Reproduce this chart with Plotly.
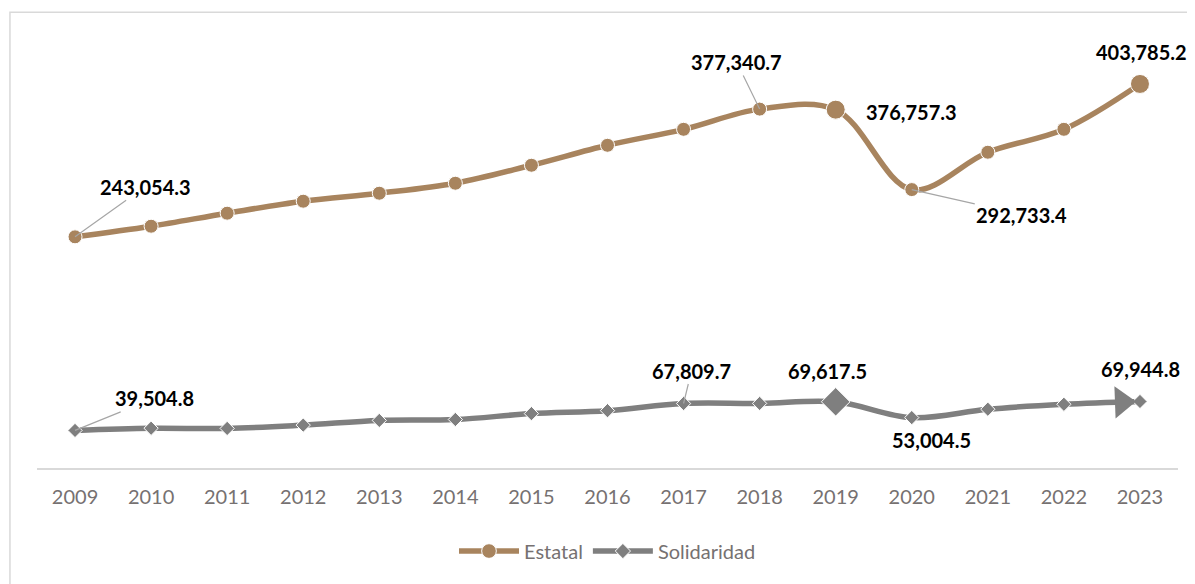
import plotly.graph_objects as go

years = list(range(2009, 2024))

estatal = [243054.3, 254200.0, 267900.0, 280500.0, 288900.0, 299400.0, 318300.0,
           339300.0, 356100.0, 377340.7, 376757.3, 292733.4, 332000.0, 356100.0, 403785.2]

solidaridad = [39504.8, 41800.0, 41600.0, 45100.0, 50000.0, 51000.0, 57200.0,
               60300.0, 67809.7, 67900.0, 69617.5, 53004.5, 61800.0, 67000.0, 69944.8]

COLOURS = {"estatal": "#A8845E", "solidaridad": "#7F7F7F", "tick": "#767171",
           "leader": "#A6A6A6", "axis": "#D9D9D9"}
FONT = "Lato"

fig = go.Figure()

# bigger markers on 2019 and 2023 (as in the source chart)
est_sizes = [19 if y in (2019, 2023) else 14 for y in years]
sol_sizes = [22 if y == 2019 else 11 for y in years]

fig.add_trace(go.Scatter(
    x=years, y=estatal, name="Estatal", mode="lines+markers",
    line=dict(color=COLOURS["estatal"], width=5.5, shape="spline", smoothing=1),
    marker=dict(color=COLOURS["estatal"], size=est_sizes, symbol="circle", opacity=1),
))
fig.add_trace(go.Scatter(
    x=years, y=solidaridad, name="Solidaridad", mode="lines+markers",
    line=dict(color=COLOURS["solidaridad"], width=5.5, shape="spline", smoothing=1),
    marker=dict(color=COLOURS["solidaridad"], size=sol_sizes, symbol="diamond", opacity=1),
))
# arrow head at the end of the Solidaridad line
fig.add_trace(go.Scatter(
    x=years[-2:], y=solidaridad[-2:], mode="markers", showlegend=False, hoverinfo="skip",
    marker=dict(color=COLOURS["solidaridad"], size=28, opacity=[0, 1],
                symbol="triangle-up", angleref="previous", standoff=18),
))

# (series, year, x offset px, y offset px, leader line)
labels = [
    (estatal, 2009, 70, -50, True),
    (estatal, 2018, -23, -47, True),
    (estatal, 2019, 76, 2, False),
    (estatal, 2020, 110, 25, True),
    (estatal, 2023, 2, -32, False),
    (solidaridad, 2009, 79, -32, True),
    (solidaridad, 2017, 8, -33, True),
    (solidaridad, 2019, -8, -31, False),
    (solidaridad, 2020, 20, 22, False),
    (solidaridad, 2023, 1, -32, False),
]
for series, yr, dx, dy, leader in labels:
    v = series[years.index(yr)]
    if leader:
        fig.add_annotation(x=yr, y=v, text=f"<b>{v:,.1f}</b>",
                           font=dict(family=FONT, size=20, color="black"),
                           showarrow=True, ax=dx, ay=dy, arrowhead=0,
                           arrowwidth=1.2, arrowcolor=COLOURS["leader"], standoff=0)
    else:
        fig.add_annotation(x=yr, y=v, text=f"<b>{v:,.1f}</b>",
                           font=dict(family=FONT, size=20, color="black"),
                           showarrow=False, xshift=dx, yshift=-dy)

# chart frame
fig.add_shape(type="rect", xref="paper", yref="paper", x0=-0.0237, x1=1.03,
              y0=-0.3, y1=1.065, line=dict(color="#D9D9D9", width=1.5),
              fillcolor="rgba(0,0,0,0)", layer="below")

fig.update_xaxes(
    range=[2008.5, 2023.5], tickmode="array", tickvals=years,
    showline=True, linecolor=COLOURS["axis"], linewidth=1.5,
    showgrid=False, zeroline=False, ticks="", ticklabelstandoff=10,
    tickfont=dict(family=FONT, size=20, color=COLOURS["tick"]),
)
fig.update_yaxes(range=[0, 450000], visible=False, showgrid=False, zeroline=False)

# page body has an 8px margin, so the figure is 8px smaller and shifted
fig.update_layout(
    width=1187, height=576,
    margin=dict(l=29, r=17, t=32, b=116),
    paper_bgcolor="white", plot_bgcolor="white",
    legend=dict(orientation="h", x=0.5, xanchor="center", y=-0.194, yanchor="middle",
                font=dict(family=FONT, size=20, color=COLOURS["tick"]),
                itemwidth=60),
    showlegend=True,
)

fig.write_html("out.html")
